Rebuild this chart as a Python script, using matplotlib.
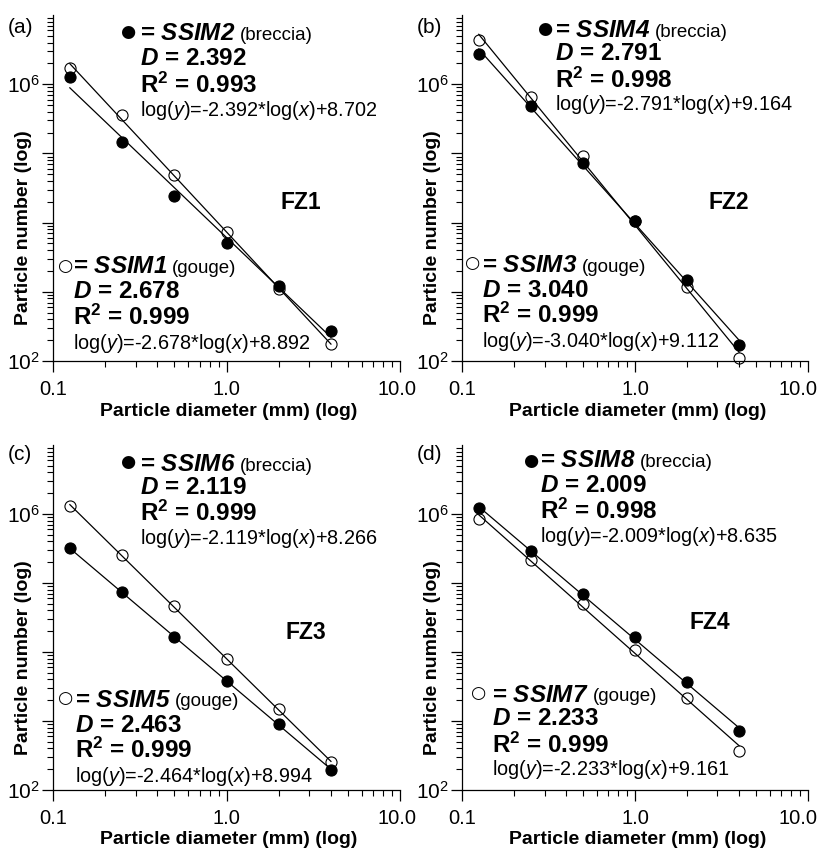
import numpy as np
import matplotlib
matplotlib.use('Agg')
import matplotlib.pyplot as plt
import matplotlib.transforms as mtransforms
from matplotlib.ticker import FixedLocator, FixedFormatter, LogLocator, NullFormatter

plt.rcParams['font.family'] = ['Liberation Sans', 'DejaVu Sans']
plt.rcParams['mathtext.fontset'] = 'custom'
plt.rcParams['mathtext.rm'] = 'Liberation Sans'
plt.rcParams['mathtext.it'] = 'Liberation Sans:italic'
plt.rcParams['mathtext.bf'] = 'Liberation Sans:bold'
plt.rcParams['mathtext.bfit'] = 'Liberation Sans:bold:italic'

# particle diameter classes (mm)
diameter = [0.125, 0.25, 0.5, 1, 2, 4]

# log10(particle number)
fz1_breccia = [6.10, 5.16, 4.39, 3.70, 3.08, 2.44]
fz1_gouge = [6.24, 5.55, 4.69, 3.86, 3.04, 2.24]
fz2_breccia = [6.44, 5.69, 4.86, 4.03, 3.17, 2.23]
fz2_gouge = [6.64, 5.81, 4.96, 4.02, 3.07, 2.04]
fz3_breccia = [5.50, 4.87, 4.21, 3.58, 2.96, 2.29]
fz3_gouge = [6.12, 5.40, 4.66, 3.90, 3.17, 2.40]
fz4_breccia = [6.08, 5.46, 4.84, 4.22, 3.57, 2.85]
fz4_gouge = [5.93, 5.33, 4.69, 4.03, 3.34, 2.57]

letters = ['(a)', '(b)', '(c)', '(d)']
zones = ['FZ1', 'FZ2', 'FZ3', 'FZ4']
breccia_names = ['SSIM2', 'SSIM4', 'SSIM6', 'SSIM8']
gouge_names = ['SSIM1', 'SSIM3', 'SSIM5', 'SSIM7']
breccia_D = ['2.392', '2.791', '2.119', '2.009']
gouge_D = ['2.678', '3.040', '2.463', '2.233']
breccia_R2 = ['0.993', '0.998', '0.999', '0.998']
gouge_R2 = ['0.999', '0.999', '0.999', '0.999']
breccia_eq = [('-2.392', '8.702'), ('-2.791', '9.164'), ('-2.119', '8.266'), ('-2.009', '8.635')]
gouge_eq = [('-2.678', '8.892'), ('-3.040', '9.112'), ('-2.464', '8.994'), ('-2.233', '9.161')]

breccia = [fz1_breccia, fz2_breccia, fz3_breccia, fz4_breccia]
gouge = [fz1_gouge, fz2_gouge, fz3_gouge, fz4_gouge]

# axes rectangles in figure fraction
rects = [[0.0646, 0.5758, 0.4226, 0.4066],
         [0.5627, 0.5758, 0.4214, 0.4066],
         [0.0646, 0.0717, 0.4226, 0.4054],
         [0.5627, 0.0717, 0.4214, 0.4054]]

# annotation placement (axes fraction): symbol x,y, text x, baselines
top_pos = [(0.216, 0.951, 0.251, [0.928, 0.855, 0.775, 0.708]),
           (0.240, 0.960, 0.269, [0.936, 0.870, 0.789, 0.725]),
           (0.216, 0.950, 0.251, [0.924, 0.857, 0.779, 0.712]),
           (0.197, 0.953, 0.225, [0.936, 0.863, 0.785, 0.718])]
bot_pos = [(0.035, 0.275, 0.058, [0.254, 0.182, 0.104, 0.035]),
           (0.030, 0.283, 0.058, [0.257, 0.185, 0.110, 0.040]),
           (0.035, 0.267, 0.063, [0.241, 0.169, 0.093, 0.023]),
           (0.047, 0.280, 0.087, [0.256, 0.189, 0.108, 0.044])]
zone_pos = [(0.715, 0.457), (0.770, 0.457), (0.730, 0.456), (0.717, 0.485)]
letter_y = [0.965, 0.965, 0.971, 0.973]
last_xlabel_shift = [-3, -10, -3, -10]


def text_block(ax, pos, symbol, name, kind, d, r2, eq):
    sx, sy, tx, ys = pos
    ax.text(sx, sy, symbol, transform=ax.transAxes, family='DejaVu Sans',
            fontsize=12.5, ha='center', va='center')
    t = ax.text(tx, ys[0], r'= $\mathbfit{' + name + '}$', transform=ax.transAxes,
                fontsize=17.5, fontweight='bold', va='baseline')
    ax.annotate(kind, xy=(1, 0), xycoords=t, xytext=(3, 1), textcoords='offset points',
                fontsize=13.5, va='bottom')
    ax.text(tx, ys[1], r'$\mathbfit{D}$ = ' + d, transform=ax.transAxes,
            fontsize=17.5, fontweight='bold', va='baseline')
    ax.text(tx, ys[2], r'$\mathbf{R^{2}}$ = ' + r2, transform=ax.transAxes,
            fontsize=17.5, fontweight='bold', va='baseline')
    ax.text(tx, ys[3], r'log($\mathit{y}$)=' + eq[0] + r'*log($\mathit{x}$)+' + eq[1],
            transform=ax.transAxes, fontsize=14.3, va='baseline')


fig = plt.figure(figsize=(8.21, 8.51), dpi=100)

for i in range(4):
    ax = fig.add_axes(rects[i])
    x = np.array(diameter)
    for vals, face in [(gouge[i], 'none'), (breccia[i], 'black')]:
        ly = np.array(vals)
        k, b = np.polyfit(np.log10(x), ly, 1)
        xf = np.array([x[0], x[-1]])
        ax.plot(xf, 10 ** (k * np.log10(xf) + b), color='black', lw=0.9, zorder=2)
        ax.plot(x, 10 ** ly, 'o', ms=8, mfc=face, mec='black', mew=0.8,
                zorder=3, clip_on=False)

    ax.set_xscale('log')
    ax.set_yscale('log')
    ax.set_xlim(0.1, 10)
    ax.set_ylim(1e2, 1e7)

    ax.xaxis.set_major_locator(FixedLocator([0.1, 1, 10]))
    ax.xaxis.set_major_formatter(FixedFormatter(['0.1', '1.0', '10.0']))
    ax.xaxis.set_minor_locator(LogLocator(base=10, subs=np.arange(2, 10)))
    ax.xaxis.set_minor_formatter(NullFormatter())
    ax.yaxis.set_major_locator(FixedLocator([1e2, 1e3, 1e4, 1e5, 1e6]))
    ax.yaxis.set_major_formatter(FixedFormatter([r'10$^{2}$', '', '', '', r'10$^{6}$']))
    ax.yaxis.set_minor_locator(LogLocator(base=10, subs=np.arange(2, 10)))
    ax.yaxis.set_minor_formatter(NullFormatter())

    ax.tick_params(which='major', direction='out', length=8, width=0.9)
    ax.tick_params(which='minor', direction='out', length=4.5, width=0.8)
    ax.tick_params(axis='x', which='major', labelsize=14.5, pad=6)
    ax.tick_params(axis='y', which='major', labelsize=15, pad=1.5)
    for s in ['top', 'right']:
        ax.spines[s].set_visible(False)
    for s in ['left', 'bottom']:
        ax.spines[s].set_linewidth(0.9)

    # the reference nudges the "10.0" label left so it stays inside the figure
    last = ax.xaxis.get_major_ticks()[-1].label1
    last.set_transform(last.get_transform() + mtransforms.ScaledTranslation(
        last_xlabel_shift[i] / 100, 0, fig.dpi_scale_trans))

    ax.set_xlabel('Particle diameter (mm) (log)', fontsize=14, fontweight='bold')
    ax.xaxis.set_label_coords(0.507, -0.12)
    ax.set_ylabel('Particle number (log)', fontsize=14, fontweight='bold')
    ax.yaxis.set_label_coords(-0.06, 0.385)

    ax.text(-0.13, letter_y[i], letters[i], transform=ax.transAxes, fontsize=15,
            ha='left', va='center')
    ax.text(zone_pos[i][0], zone_pos[i][1], zones[i], transform=ax.transAxes,
            fontsize=16.5, fontweight='bold', ha='center', va='center')

    text_block(ax, top_pos[i], '\u25cf', breccia_names[i], '(breccia)',
               breccia_D[i], breccia_R2[i], breccia_eq[i])
    text_block(ax, bot_pos[i], '\u25cb', gouge_names[i], '(gouge)',
               gouge_D[i], gouge_R2[i], gouge_eq[i])

fig.savefig('out.png', dpi=100)
